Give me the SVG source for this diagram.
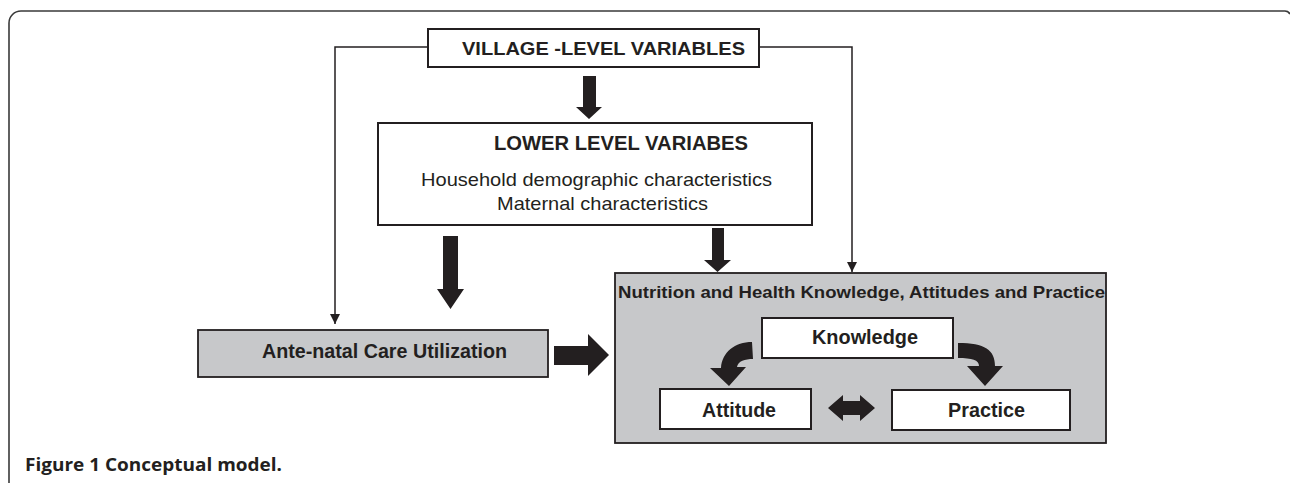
<svg xmlns="http://www.w3.org/2000/svg" width="1290" height="483" viewBox="0 0 1290 483">
  <style>
    .frame { fill: none; stroke: #3a3a3a; stroke-width: 1.6; }
    .box { fill: #ffffff; stroke: #231f20; stroke-width: 2; }
    .grey { fill: #c7c8ca; stroke: #231f20; stroke-width: 1.8; }
    .thin { fill: none; stroke: #231f20; stroke-width: 1.5; }
    .fat { fill: #231f20; stroke: none; }
    .b { font-family: "Liberation Sans", Arial, sans-serif; font-weight: bold; fill: #231f20; }
    .r { font-family: "Liberation Sans", Arial, sans-serif; fill: #231f20; }
    .cap { font-family: "Open Sans", "Noto Sans", sans-serif; font-weight: bold; fill: #231f20; }
  </style>
  <defs>
    <marker id="tip" viewBox="0 0 10 10" refX="10" refY="5" markerWidth="10" markerHeight="10" markerUnits="userSpaceOnUse" orient="auto">
      <path d="M0,0 L10,5 L0,10 Z" fill="#231f20"/>
    </marker>
  </defs>

  <rect width="1290" height="483" fill="#ffffff"/>

  <!-- page frame -->
  <path class="frame" d="M9,484 V23 A12,12 0 0 1 21,11 H1284 A6,6 0 0 1 1290,14"/>

  <g id="village">
    <rect class="box" x="428" y="29" width="331" height="38"/>
    <text class="b" x="462" y="54.5" font-size="18.5" textLength="283" lengthAdjust="spacingAndGlyphs">VILLAGE -LEVEL VARIABLES</text>
  </g>

  <g id="lower">
    <rect class="box" x="378" y="123" width="434" height="102"/>
    <text class="b" x="494" y="150" font-size="19.5" textLength="254" lengthAdjust="spacingAndGlyphs">LOWER LEVEL VARIABES</text>
    <text class="r" x="421" y="186" font-size="19" textLength="351" lengthAdjust="spacingAndGlyphs">Household demographic characteristics</text>
    <text class="r" x="497" y="210" font-size="19" textLength="211" lengthAdjust="spacingAndGlyphs">Maternal characteristics</text>
  </g>

  <g id="antenatal">
    <rect class="grey" x="198" y="330" width="350" height="47"/>
    <text class="b" x="262" y="358" font-size="19.5" textLength="245" lengthAdjust="spacingAndGlyphs">Ante-natal Care Utilization</text>
  </g>

  <g id="kap">
    <rect class="grey" x="615" y="273" width="491" height="170"/>
    <text class="b" x="618" y="298" font-size="16.5" textLength="487" lengthAdjust="spacingAndGlyphs">Nutrition and Health Knowledge, Attitudes and Practice</text>
  </g>

  <g id="knowledge">
    <rect class="box" x="762" y="318" width="191" height="40"/>
    <text class="b" x="812" y="344" font-size="20" textLength="106" lengthAdjust="spacingAndGlyphs">Knowledge</text>
  </g>

  <g id="attitude">
    <rect class="box" x="660" y="389" width="151" height="40"/>
    <text class="b" x="702" y="417" font-size="20" textLength="74" lengthAdjust="spacingAndGlyphs">Attitude</text>
  </g>

  <g id="practice">
    <rect class="box" x="892" y="390" width="178" height="40"/>
    <text class="b" x="948" y="417" font-size="20" textLength="77" lengthAdjust="spacingAndGlyphs">Practice</text>
  </g>

  <g id="connectors">
    <!-- thin elbow links from the village box -->
    <path class="thin" d="M428,47 H335 V324" marker-end="url(#tip)"/>
    <path class="thin" d="M759,47 H852 V272" marker-end="url(#tip)"/>
    <!-- block arrows -->
    <path class="fat" d="M583,76 H596 V107 H602 L589,119 L576,107 H583 Z"/>
    <path class="fat" d="M443,236 H458 V289 H464 L450.5,309 L437,289 H443 Z"/>
    <path class="fat" d="M712,228 H724 V260 H731 L717.5,272 L704,260 H712 Z"/>
    <path class="fat" d="M554,346 H588 V334 L609,355 L588,376 V365 H554 Z"/>
    <!-- curved arrows inside the KAP panel -->
    <path class="fat" d="M752,342 L753,359 C745,359 738,361 737,367 L746,367 L729,386 L710,368 L721,368 C722,352 735,342 752,342 Z"/>
    <path class="fat" d="M958,343 C985,343 995,350 995,366 L1003,366 L985,386 L967,366 L979,366 C979,360 972,358 958,358 Z"/>
    <!-- two-way arrow between attitude and practice -->
    <path class="fat" d="M828,408 L843,395 L843,401 L860,401 L860,395 L875,408 L860,421 L860,415 L843,415 L843,421 Z"/>
  </g>

  <text class="cap" x="25" y="471" font-size="17" textLength="257" lengthAdjust="spacingAndGlyphs">Figure 1 Conceptual model.</text>
</svg>
